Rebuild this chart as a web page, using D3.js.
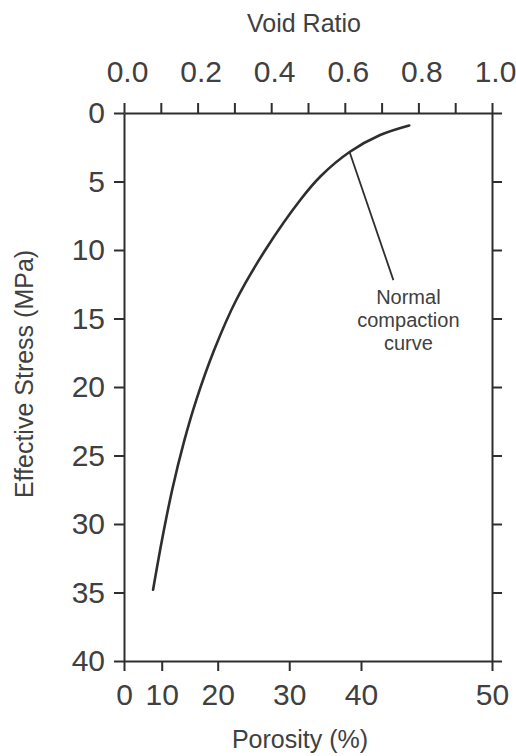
<!DOCTYPE html>
<html>
<head>
<meta charset="utf-8">
<script src="https://cdn.jsdelivr.net/npm/d3@7"></script>
<style>
  html, body { margin: 0; padding: 0; background: #ffffff; }
  svg { display: block; }
  .axis path, .axis line { stroke: #2e2e2e; stroke-width: 2; }
  .axis text { font-family: "Liberation Sans", Arial, sans-serif; font-size: 30px; fill: #404040; }
  .title { font-family: "Liberation Sans", Arial, sans-serif; font-size: 25px; fill: #404040; }
  .note { font-family: "Liberation Sans", Arial, sans-serif; font-size: 20px; fill: #404040; }
</style>
</head>
<body>
<svg id="chart" width="516" height="756"></svg>
<script>
// ---- data ----
const voidRatioTicks = [0, 0.1, 0.2, 0.3, 0.4, 0.5, 0.6, 0.7, 0.8, 0.9, 1.0];
const voidRatioLabels = ["0.0", "0.2", "0.4", "0.6", "0.8", "1.0"];
const stressTicks = [0, 5, 10, 15, 20, 25, 30, 35, 40];
const porosityTicks = [0, 10, 20, 30, 40, 50];
// normal compaction curve (void ratio, effective stress MPa)
const curveVoidRatio = [0.079, 0.103, 0.131, 0.164, 0.197, 0.245, 0.305, 0.384, 0.479, 0.535, 0.613, 0.696, 0.775];
const curveStress    = [34.8, 31.2, 27.5, 23.9, 20.9, 17.3, 13.65, 10.0, 6.35, 4.6, 2.85, 1.61, 0.91];
// leader line for the label
const leaderVoidRatio = [0.613, 0.732];
const leaderStress = [2.85, 12.2];
const noteLines = ["Normal", "compaction", "curve"];
const titleTop = "Void Ratio";
const titleBottom = "Porosity (%)";
const titleLeft = "Effective Stress (MPa)";

// ---- layout ----
const W = 516, H = 756;
const M = { left: 124, right: 24, top: 113, bottom: 95 };
const iw = W - M.left - M.right, ih = H - M.top - M.bottom;
// porosity tick placement along the bottom axis (fractions of plot width, as drawn)
const porosityTickFrac = [0, 0.1025, 0.2546, 0.449, 0.644, 1];

const svg = d3.select("#chart");
const g = svg.append("g").attr("transform", `translate(${M.left},${M.top})`);

const xVoid = d3.scaleLinear().domain([0, 1]).range([0, iw]);
const xPor = d3.scaleLinear().domain(porosityTicks).range(porosityTickFrac.map(f => f * iw));
const y = d3.scaleLinear().domain([0, 40]).range([0, ih]);

// axes
const topAxisG = g.append("g").attr("class", "axis")
  .call(d3.axisTop(xVoid).tickValues(voidRatioTicks).tickSize(10).tickSizeOuter(0).tickPadding(21)
    .tickFormat(d => { const i = Math.round(d * 10); return i % 2 === 0 ? voidRatioLabels[i / 2] : ""; }));
topAxisG.selectAll("text").attr("dx", "3");

g.append("g").attr("class", "axis")
  .call(d3.axisLeft(y).tickValues(stressTicks).tickSize(10).tickSizeOuter(0).tickPadding(9));

g.append("g").attr("class", "axis").attr("transform", `translate(0,${ih})`)
  .call(d3.axisBottom(xPor).tickValues(porosityTicks).tickSize(10).tickSizeOuter(0).tickPadding(13));

g.append("g").attr("class", "axis").attr("transform", `translate(${iw},0)`)
  .call(d3.axisRight(y).tickValues(stressTicks).tickSize(10).tickSizeOuter(0).tickFormat(""));

// curve
const pts = curveVoidRatio.map((e, i) => [e, curveStress[i]]);
g.append("path").datum(pts)
  .attr("fill", "none").attr("stroke", "#2e2e2e").attr("stroke-width", 2.6).attr("stroke-linecap", "round")
  .attr("d", d3.line().x(d => xVoid(d[0])).y(d => y(d[1])).curve(d3.curveCatmullRom));

// leader line
g.append("line")
  .attr("x1", xVoid(leaderVoidRatio[0])).attr("y1", y(leaderStress[0]))
  .attr("x2", xVoid(leaderVoidRatio[1])).attr("y2", y(leaderStress[1]))
  .attr("stroke", "#2e2e2e").attr("stroke-width", 1.8);

// note text
const noteX = xVoid(leaderVoidRatio[1]) + 15;
const note = g.append("text").attr("class", "note").attr("text-anchor", "middle")
  .attr("x", noteX).attr("y", y(leaderStress[1]) + 24);
note.selectAll("tspan").data(noteLines).join("tspan")
  .attr("x", noteX)
  .attr("dy", (d, i) => i === 0 ? 0 : 23)
  .text(d => d);

// titles
svg.append("text").attr("class", "title").attr("text-anchor", "middle")
  .attr("x", 304).attr("y", 32).text(titleTop);
svg.append("text").attr("class", "title").attr("text-anchor", "middle")
  .attr("x", 300).attr("y", 748).text(titleBottom);
svg.append("text").attr("class", "title").attr("text-anchor", "middle")
  .attr("transform", `translate(33,${M.top + ih / 2 - 13}) rotate(-90)`).text(titleLeft);
</script>
</body>
</html>
